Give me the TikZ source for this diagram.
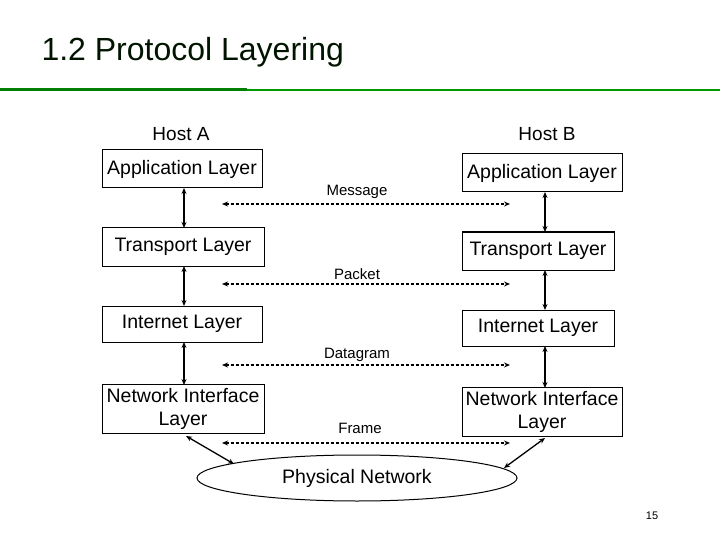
\documentclass[tikz,border=0pt]{standalone}
\usepackage{fontspec}
\setmainfont{Liberation Sans}
\usetikzlibrary{shapes.geometric,arrows.meta}
\begin{document}
\begin{tikzpicture}[x=1pt,y=-1pt,
  lay/.style={draw,line width=1pt,fill=white,inner sep=0pt,align=center,font=\fontsize{19.5}{23}\selectfont},
  vv/.style={line width=1.3pt,{Stealth[length=6pt,width=5pt]}-{Stealth[length=6pt,width=5pt]}},
  dd/.style={line width=1.3pt,dash pattern=on 3pt off 2pt,{Stealth[length=6pt,width=5pt]}-{Stealth[length=6pt,width=5pt]}},
  lbl/.style={font=\fontsize{15}{17}\selectfont}]
\useasboundingbox (0,0) rectangle (720,540);
\node[anchor=west,font=\fontsize{32}{36}\selectfont,text=black!80!green!40!black] (title) at (38,52) {1.2 Protocol Layering};
\draw[line width=3pt,green!50!black] (0,90) -- (247,90);
\draw[line width=1.5pt,green!60!black] (247,90) -- (720,90);
\node[font=\fontsize{19}{22}\selectfont] (ha) at (181,134) {Host A};
\node[font=\fontsize{19}{22}\selectfont] (hb) at (547,134) {Host B};
\node[lay,minimum width=160,minimum height=38] (a1) at (182,169) {Application Layer};
\node[lay,minimum width=160,minimum height=38] (b1) at (542,173) {Application Layer};
\node[lay,minimum width=162,minimum height=38] (a2) at (183,247) {Transport Layer};
\node[lay,minimum width=152,minimum height=38] (b2) at (538,251) {Transport Layer};
\node[lay,minimum width=160,minimum height=36] (a3) at (182,324) {Internet Layer};
\node[lay,minimum width=152,minimum height=36] (b3) at (538,328) {Internet Layer};
\node[lay,minimum width=162,minimum height=49] (a4) at (183,409) {Network Interface\\Layer};
\node[lay,minimum width=160,minimum height=49] (b4) at (542,412) {Network Interface\\Layer};
\node[draw,line width=1pt,ellipse,minimum width=320,minimum height=46,font=\fontsize{19.5}{23}\selectfont] (pn) at (357,478) {Physical Network};
\draw[vv] (184,188) -- (184,228);
\draw[vv] (184,266) -- (184,306);
\draw[vv] (184,342) -- (184,385);
\draw[vv] (545,192) -- (545,232);
\draw[vv] (545,270) -- (545,310);
\draw[vv] (545,346) -- (545,388);
\draw[vv] (186,436) -- (234,464);
\draw[vv] (545,438) -- (504,468);
\coordinate (m1) at (222,204); \coordinate (m2) at (510,204);
\coordinate (p1) at (222,284); \coordinate (p2) at (510,284);
\coordinate (d1) at (222,365); \coordinate (d2) at (510,365);
\coordinate (f1) at (222,443); \coordinate (f2) at (510,443);
\draw[dd] (m1) -- (m2); \draw[dd] (p1) -- (p2);
\draw[dd] (d1) -- (d2); \draw[dd] (f1) -- (f2);
\node[lbl] (lm) at (357,192) {Message};
\node[lbl] (lp) at (357,274) {Packet};
\node[lbl] (ld) at (357,355) {Datagram};
\node[lbl] (lf) at (360,428) {Frame};
\node[font=\fontsize{11}{13}\selectfont] (pg) at (652,516) {15};
\end{tikzpicture}
\end{document}
